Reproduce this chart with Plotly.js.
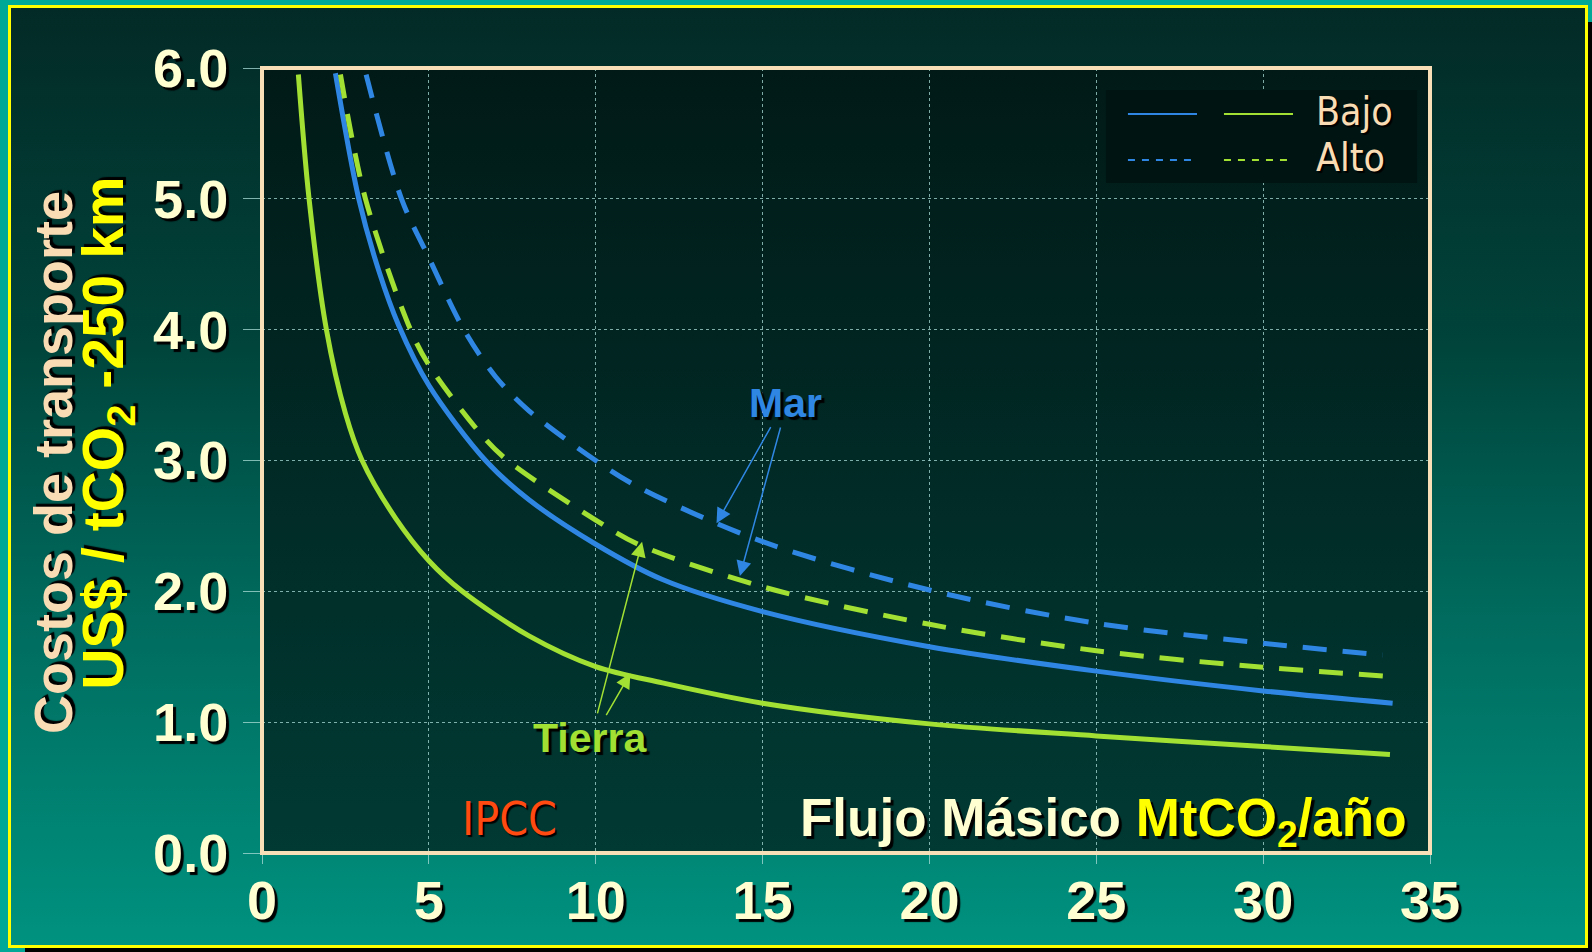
<!DOCTYPE html>
<html>
<head>
<meta charset="utf-8">
<script src="https://cdn.plot.ly/plotly-3.0.1.min.js"></script>
<style>
  html, body { margin:0; padding:0; width:1592px; height:952px; overflow:hidden; background:#00a898; }
  #shadow { position:absolute; left:25px; top:22px; width:1567px; height:930px; background:#000; }
  #frame { position:absolute; left:8px; top:5px; width:1580px; height:943px; box-sizing:border-box;
           border:3px solid #ffff00;
           background:linear-gradient(to bottom, #032a26 0%, #00433a 35%, #006b5e 65%, #00927f 100%); }
  #plotbg { position:absolute; left:262px; top:68px; width:1168px; height:785px;
            background:linear-gradient(to bottom, #011a17 0%, #012824 45%, #013a33 100%); }
  #chart { position:absolute; left:0; top:0; width:1592px; height:952px; }
</style>
</head>
<body>
<div id="shadow"></div>
<div id="frame"></div>
<div id="plotbg"></div>
<div id="chart"></div>
<script>
// Tierra (land) - low cost (solid green)
const tierraBajoX = [1.09, 1.41, 1.93, 2.5, 3.0, 4.0, 5.0, 6.0, 8.0, 10.0, 12.0, 15.0, 20.0, 25.0, 30.0, 33.8];
const tierraBajoY = [5.95, 5.0, 4.0, 3.36, 3.0, 2.56, 2.234, 2.0, 1.66, 1.425, 1.30, 1.145, 0.987, 0.895, 0.814, 0.753];
// Mar (sea) - low cost (solid blue)
const marBajoX = [2.2, 2.9, 3.5, 4.1, 5.0, 6.7, 8.0, 10.0, 12.0, 15.0, 20.0, 25.0, 30.0, 33.88];
const marBajoY = [5.96, 5.0, 4.45, 4.03, 3.575, 3.0, 2.7, 2.36, 2.09, 1.845, 1.577, 1.39, 1.239, 1.145];
// Tierra - high cost (dashed green)
const tierraAltoX = [2.35, 3.1, 4.45, 5.0, 6.6, 7.36, 10.0, 11.33, 15.0, 20.0, 25.0, 30.0, 33.93];
const tierraAltoY = [5.95, 5.0, 4.0, 3.73, 3.19, 3.0, 2.545, 2.353, 2.035, 1.748, 1.546, 1.42, 1.348];
// Mar - high cost (dashed blue)
const marAltoX = [3.12, 4.18, 5.0, 6.05, 7.0, 8.0, 10.0, 11.33, 15.0, 20.0, 25.0, 30.0, 33.58];
const marAltoY = [5.95, 5.0, 4.55, 4.0, 3.64, 3.38, 3.0, 2.79, 2.38, 2.01, 1.756, 1.603, 1.514];

const xTicks = [0, 5, 10, 15, 20, 25, 30, 35];
const yTicks = [0, 1, 2, 3, 4, 5, 6];
const yTickText = ["0.0", "1.0", "2.0", "3.0", "4.0", "5.0", "6.0"];

const BLUE = "#2f87e3";
const GREEN = "#a2e034";
const CREAM = "#ffffd2";
const BEIGE = "#fadcb4";
const SHADOW = "3px 3px 1px #000000";
const BOLD = "Liberation Sans, Arial, sans-serif";
const NARROW = "DejaVu Sans Condensed, Liberation Sans Narrow, Arial Narrow, sans-serif";

const mk = (x, y, color, dash) => ({
  x: x, y: y, type: "scatter", mode: "lines",
  line: { color: color, width: 5, shape: "spline", smoothing: 0.9, dash: dash },
  hoverinfo: "skip", showlegend: false
});

const traces = [
  mk(tierraBajoX, tierraBajoY, GREEN, "solid"),
  mk(marBajoX, marBajoY, BLUE, "solid"),
  mk(tierraAltoX, tierraAltoY, GREEN, "24px,16px"),
  mk(marAltoX, marAltoY, BLUE, "24px,16px")
];

const tickFont = { family: BOLD, size: 54, color: CREAM, weight: 700, shadow: SHADOW };
const gridCol = "rgba(170,220,215,0.75)";

const annotations = [
  // y-axis title (two lines)
  { xref: "paper", yref: "paper", x: -0.1789, y: 0.4968, xanchor: "center", yanchor: "middle",
    textangle: -90, showarrow: false, text: "Costos de transporte",
    font: { family: BOLD, size: 54, color: BEIGE, weight: 700, shadow: SHADOW } },
  { xref: "paper", yref: "paper", x: -0.133, y: 0.535, xanchor: "center", yanchor: "middle",
    textangle: -90, showarrow: false, text: "US$ / tCO<sub>2</sub> -250 km",
    font: { family: BOLD, size: 57, color: "#ffff00", weight: 700, shadow: SHADOW } },
  // x-axis title inside the plot
  { xref: "paper", yref: "paper", x: 0.982, y: 0.040, xanchor: "right", yanchor: "middle",
    showarrow: false, text: "Flujo Másico <span style='color:#ffff00'>MtCO<sub>2</sub>/año</span>",
    font: { family: BOLD, size: 53, color: CREAM, weight: 700, shadow: SHADOW } },
  // IPCC
  { xref: "paper", yref: "paper", x: 0.2123, y: 0.0433, xanchor: "center", yanchor: "middle",
    showarrow: false, text: "IPCC",
    font: { family: NARROW, size: 46, color: "#ff4a12", shadow: "2px 2px 1px #000000" } },
  // labels
  { xref: "paper", yref: "paper", x: 0.4486, y: 0.5732, xanchor: "center", yanchor: "middle",
    showarrow: false, text: "Mar",
    font: { family: BOLD, size: 41, color: BLUE, weight: 700, shadow: SHADOW } },
  { xref: "paper", yref: "paper", x: 0.2808, y: 0.1465, xanchor: "center", yanchor: "middle",
    showarrow: false, text: "Tierra",
    font: { family: BOLD, size: 41, color: GREEN, weight: 700, shadow: SHADOW } },
  // arrows
  { x: 13.62, y: 2.52, ax: 15.27, ay: 3.267, xref: "x", yref: "y", axref: "x", ayref: "y", text: "",
    showarrow: true, arrowhead: 2, arrowsize: 2, arrowwidth: 1.5, arrowcolor: BLUE, standoff: 0 },
  { x: 14.32, y: 2.117, ax: 15.55, ay: 3.264, xref: "x", yref: "y", axref: "x", ayref: "y", text: "",
    showarrow: true, arrowhead: 2, arrowsize: 2, arrowwidth: 1.5, arrowcolor: BLUE, standoff: 0 },
  { x: 11.39, y: 2.379, ax: 10.04, ay: 1.056, xref: "x", yref: "y", axref: "x", ayref: "y", text: "",
    showarrow: true, arrowhead: 2, arrowsize: 2, arrowwidth: 1.5, arrowcolor: GREEN, standoff: 0 },
  { x: 11.04, y: 1.374, ax: 10.29, ay: 1.043, xref: "x", yref: "y", axref: "x", ayref: "y", text: "",
    showarrow: true, arrowhead: 2, arrowsize: 2, arrowwidth: 1.5, arrowcolor: GREEN, standoff: 0 },
  // legend texts
  { xref: "paper", yref: "paper", x: 0.9005, y: 0.944, xanchor: "left", yanchor: "middle",
    showarrow: false, text: "Bajo",
    font: { family: NARROW, size: 39, color: BEIGE, shadow: "2px 2px 1px #000000" } },
  { xref: "paper", yref: "paper", x: 0.9005, y: 0.8866, xanchor: "left", yanchor: "middle",
    showarrow: false, text: "Alto",
    font: { family: NARROW, size: 39, color: BEIGE, shadow: "2px 2px 1px #000000" } }
];

const shapes = [
  // legend box
  { type: "rect", xref: "paper", yref: "paper", x0: 0.7226, x1: 0.9889, y0: 0.8535, y1: 0.972,
    fillcolor: "#001512", line: { width: 0 }, layer: "above" },
  { type: "line", xref: "paper", yref: "paper", x0: 0.7414, x1: 0.8005, y0: 0.9414, y1: 0.9414,
    line: { color: BLUE, width: 2 } },
  { type: "line", xref: "paper", yref: "paper", x0: 0.8236, x1: 0.8827, y0: 0.9414, y1: 0.9414,
    line: { color: GREEN, width: 2 } },
  { type: "line", xref: "paper", yref: "paper", x0: 0.7414, x1: 0.7954, y0: 0.8828, y1: 0.8828,
    line: { color: BLUE, width: 2, dash: "7px,7px" } },
  { type: "line", xref: "paper", yref: "paper", x0: 0.8236, x1: 0.8784, y0: 0.8828, y1: 0.8828,
    line: { color: GREEN, width: 2, dash: "7px,7px" } },
  // plot frame
  { type: "rect", xref: "paper", yref: "paper", x0: 0, x1: 1, y0: 0, y1: 1,
    line: { color: "#f8dfb8", width: 4 }, fillcolor: "rgba(0,0,0,0)", layer: "above" }
];

const layout = {
  width: 1592, height: 952,
  margin: { l: 262, r: 162, t: 68, b: 99 },
  paper_bgcolor: "rgba(0,0,0,0)", plot_bgcolor: "rgba(0,0,0,0)",
  showlegend: false,
  xaxis: {
    range: [0, 35], tickvals: xTicks, ticktext: xTicks.map(String),
    showgrid: true, gridcolor: gridCol, gridwidth: 1, griddash: "dot",
    zeroline: false, showline: false,
    ticks: "outside", ticklen: 10, tickcolor: gridCol, tickwidth: 1,
    ticklabelstandoff: -10, tickfont: tickFont, fixedrange: true
  },
  yaxis: {
    range: [0, 6], tickvals: yTicks, ticktext: yTickText,
    showgrid: true, gridcolor: gridCol, gridwidth: 1, griddash: "dot",
    zeroline: false, showline: false,
    ticks: "outside", ticklen: 18, tickcolor: gridCol, tickwidth: 1,
    ticklabelstandoff: 4, tickfont: tickFont, fixedrange: true
  },
  annotations: annotations,
  shapes: shapes
};

Plotly.newPlot("chart", traces, layout, { displayModeBar: false, staticPlot: true });
</script>
</body>
</html>
